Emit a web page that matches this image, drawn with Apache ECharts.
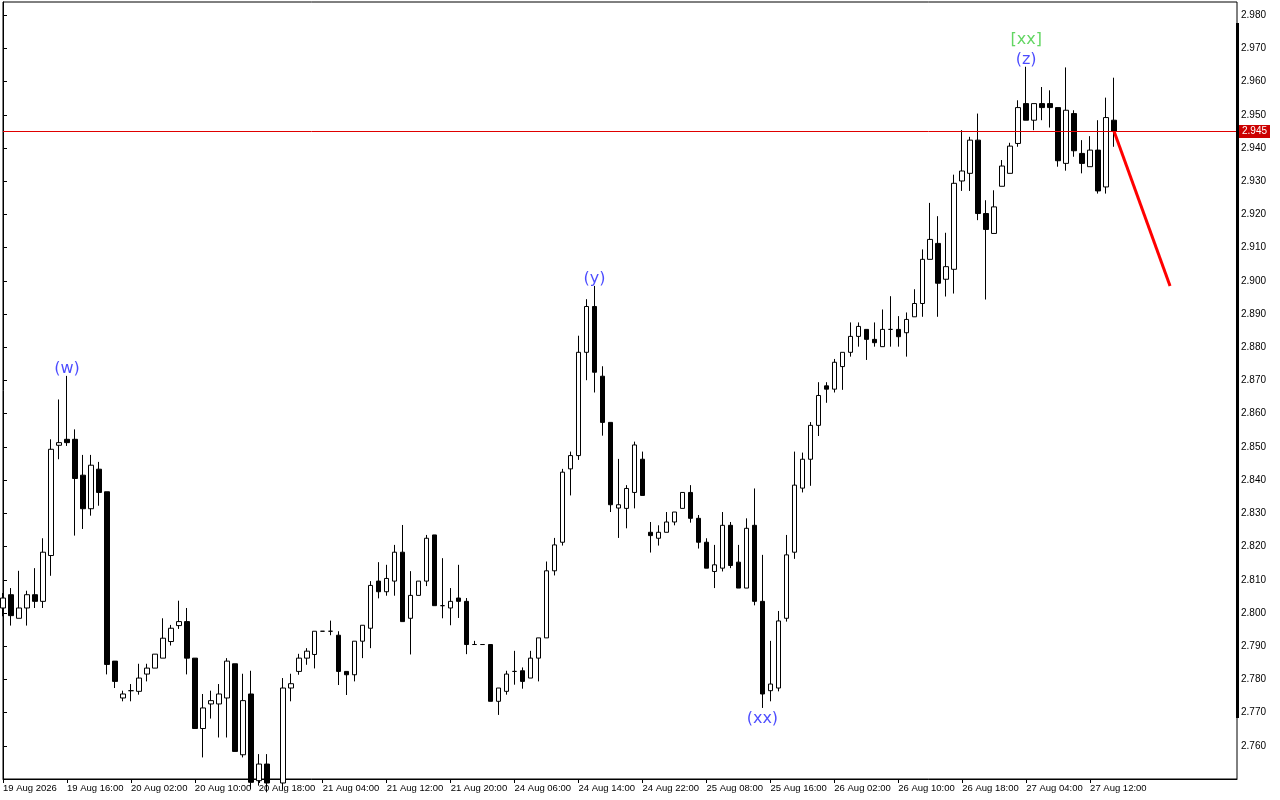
<!DOCTYPE html>
<html>
<head>
<meta charset="utf-8">
<script src="https://cdn.jsdelivr.net/npm/echarts@6/dist/echarts.min.js"></script>
<style>
  html, body { margin: 0; padding: 0; background: #fff; }
  #container { width: 1280px; height: 800px; }
</style>
</head>
<body>
<div id="container"></div>
<script>
// hourly candles (index 0 = 19 Aug 08:00)
const open = [
  2.8015, 2.8055, 2.7984, 2.8015, 2.8055, 2.8035, 2.8173, 2.8505, 2.8523, 2.8523,
  2.8415, 2.8314, 2.8433, 2.8365, 2.7855, 2.7744, 2.7766, 2.7764, 2.7816, 2.7834,
  2.7864, 2.7914, 2.7962, 2.7974, 2.7864, 2.7652, 2.7726, 2.7726, 2.7744, 2.7847,
  2.7573, 2.7756, 2.7495, 2.7545, 2.7475, 2.7488, 2.7774, 2.7824, 2.7864, 2.7875,
  2.7945, 2.7945, 2.7933, 2.7824, 2.7814, 2.7915, 2.7954, 2.8096, 2.8064, 2.8096,
  2.8183, 2.7984, 2.8053, 2.8096, 2.8235, 2.8022, 2.8015, 2.8045, 2.8035, 2.7905,
  2.7905, 2.7905, 2.7734, 2.7764, 2.7824, 2.7826, 2.7804, 2.7864, 2.7925, 2.8127,
  2.8213, 2.8434, 2.8474, 2.8785, 2.8923, 2.8713, 2.8574, 2.8316, 2.8315, 2.8363,
  2.8463, 2.8243, 2.8225, 2.8243, 2.8274, 2.8315, 2.8363, 2.8285, 2.8213, 2.8125,
  2.8135, 2.8264, 2.8153, 2.8075, 2.8264, 2.8035, 2.7766, 2.7774, 2.7984, 2.8183,
  2.8376, 2.8463, 2.8565, 2.8684, 2.8674, 2.8742, 2.8785, 2.8833, 2.8854, 2.8824,
  2.8802, 2.8854, 2.8854, 2.8844, 2.8892, 2.8932, 2.9065, 2.9113, 2.9005, 2.9035,
  2.9301, 2.9324, 2.9424, 2.9203, 2.9143, 2.9285, 2.9324, 2.9414, 2.9534, 2.9484,
  2.9534, 2.9534, 2.9522, 2.9354, 2.9504, 2.9384, 2.9344, 2.9394, 2.9283, 2.9484
];
const high = [
  2.8060, 2.8075, 2.8127, 2.8067, 2.8135, 2.8225, 2.8523, 2.8643, 2.8714, 2.8553,
  2.8476, 2.8476, 2.8455, 2.8365, 2.7855, 2.7766, 2.7786, 2.7847, 2.7847, 2.7876,
  2.7984, 2.7964, 2.8037, 2.8015, 2.7864, 2.7756, 2.7766, 2.7786, 2.7864, 2.7847,
  2.7817, 2.7826, 2.7575, 2.7575, 2.7495, 2.7804, 2.7817, 2.7877, 2.7894, 2.7945,
  2.7945, 2.7977, 2.7945, 2.7824, 2.7915, 2.7963, 2.8096, 2.8153, 2.8145, 2.8205,
  2.8265, 2.8126, 2.8096, 2.8235, 2.8235, 2.8165, 2.8075, 2.8145, 2.8045, 2.7916,
  2.7905, 2.7905, 2.7774, 2.7826, 2.7886, 2.7836, 2.7886, 2.7925, 2.8155, 2.8226,
  2.8434, 2.8486, 2.8835, 2.8945, 2.8985, 2.8743, 2.8574, 2.8464, 2.8385, 2.8516,
  2.8486, 2.8274, 2.8264, 2.8304, 2.8304, 2.8363, 2.8385, 2.8295, 2.8225, 2.8205,
  2.8304, 2.8274, 2.8205, 2.8285, 2.8375, 2.8175, 2.7916, 2.8006, 2.8235, 2.8486,
  2.8483, 2.8575, 2.8695, 2.8695, 2.8765, 2.8785, 2.8875, 2.8875, 2.8854, 2.8875,
  2.8914, 2.8954, 2.8894, 2.8905, 2.8975, 2.9095, 2.9235, 2.9195, 2.9145, 2.9320,
  2.9454, 2.9434, 2.9504, 2.9243, 2.9273, 2.9364, 2.9416, 2.9544, 2.9645, 2.9534,
  2.9584, 2.9574, 2.9522, 2.9643, 2.9514, 2.9424, 2.9436, 2.9484, 2.9552, 2.9612
];
const low = [
  2.7990, 2.7962, 2.7984, 2.7962, 2.8015, 2.8015, 2.8112, 2.8463, 2.8503, 2.8233,
  2.8253, 2.8293, 2.8323, 2.7815, 2.7774, 2.7734, 2.7734, 2.7754, 2.7794, 2.7834,
  2.7864, 2.7902, 2.7952, 2.7815, 2.7652, 2.7565, 2.7682, 2.7625, 2.7625, 2.7583,
  2.7565, 2.7470, 2.7480, 2.7460, 2.7440, 2.7470, 2.7734, 2.7814, 2.7844, 2.7833,
  2.7945, 2.7933, 2.7783, 2.7753, 2.7794, 2.7864, 2.7894, 2.8044, 2.8052, 2.8052,
  2.7974, 2.7875, 2.8053, 2.8081, 2.8022, 2.7984, 2.7963, 2.7985, 2.7876, 2.7905,
  2.7905, 2.7734, 2.7693, 2.7754, 2.7784, 2.7772, 2.7804, 2.7794, 2.7925, 2.8113,
  2.8203, 2.8354, 2.8461, 2.8701, 2.8664, 2.8534, 2.8304, 2.8226, 2.8255, 2.8315,
  2.8354, 2.8182, 2.8203, 2.8243, 2.8264, 2.8315, 2.8272, 2.8194, 2.8135, 2.8075,
  2.8125, 2.8135, 2.8075, 2.8075, 2.8023, 2.7714, 2.7734, 2.7764, 2.7974, 2.8163,
  2.8363, 2.8383, 2.8533, 2.8633, 2.8664, 2.8672, 2.8772, 2.8802, 2.8762, 2.8802,
  2.8802, 2.8802, 2.8802, 2.8772, 2.8892, 2.8892, 2.9065, 2.8892, 2.8953, 2.8962,
  2.9271, 2.9271, 2.9183, 2.8944, 2.9143, 2.9285, 2.9324, 2.9404, 2.9484, 2.9454,
  2.9484, 2.9462, 2.9344, 2.9332, 2.9374, 2.9324, 2.9344, 2.9263, 2.9263, 2.9404
];
const close = [
  2.8045, 2.7992, 2.8015, 2.8055, 2.8035, 2.8183, 2.8493, 2.8513, 2.8513, 2.8405,
  2.8314, 2.8445, 2.8363, 2.7845, 2.7794, 2.7756, 2.7766, 2.7804, 2.7834, 2.7876,
  2.7924, 2.7954, 2.7974, 2.7864, 2.7652, 2.7714, 2.7736, 2.7756, 2.7855, 2.7583,
  2.7736, 2.7490, 2.7545, 2.7488, 2.7465, 2.7774, 2.7787, 2.7864, 2.7885, 2.7945,
  2.7945, 2.7945, 2.7824, 2.7814, 2.7915, 2.7963, 2.8083, 2.8064, 2.8104, 2.8183,
  2.7974, 2.8053, 2.8096, 2.8225, 2.8022, 2.8022, 2.8035, 2.8035, 2.7905, 2.7905,
  2.7905, 2.7734, 2.7774, 2.7816, 2.7824, 2.7794, 2.7864, 2.7925, 2.8127, 2.8205,
  2.8424, 2.8474, 2.8785, 2.8923, 2.8725, 2.8574, 2.8326, 2.8326, 2.8375, 2.8506,
  2.8354, 2.8233, 2.8243, 2.8274, 2.8304, 2.8363, 2.8285, 2.8213, 2.8135, 2.8145,
  2.8264, 2.8143, 2.8075, 2.8255, 2.8035, 2.7756, 2.7786, 2.7976, 2.8175, 2.8385,
  2.8463, 2.8565, 2.8655, 2.8674, 2.8755, 2.8785, 2.8833, 2.8863, 2.8824, 2.8814,
  2.8854, 2.8854, 2.8832, 2.8884, 2.8932, 2.9065, 2.9125, 2.8993, 2.9043, 2.9294,
  2.9331, 2.9424, 2.9203, 2.9155, 2.9223, 2.9346, 2.9406, 2.9522, 2.9484, 2.9534,
  2.9522, 2.9522, 2.9362, 2.9514, 2.9392, 2.9354, 2.9394, 2.9271, 2.9492, 2.9450
];

// time axis labels, one every 8 bars
const tickIndex = [0, 8, 16, 24, 32, 40, 48, 56, 64, 72, 80, 88, 96, 104, 112, 120, 128, 136];
const tickLabels = [
  '19 Aug 2026', '19 Aug 16:00', '20 Aug 02:00', '20 Aug 10:00', '20 Aug 18:00',
  '21 Aug 04:00', '21 Aug 12:00', '21 Aug 20:00', '24 Aug 06:00', '24 Aug 14:00',
  '24 Aug 22:00', '25 Aug 08:00', '25 Aug 16:00', '26 Aug 02:00', '26 Aug 10:00',
  '26 Aug 18:00', '27 Aug 04:00', '27 Aug 12:00'
];

// wave marks
const waveIndex = [8, 74, 95, 128, 128];
const waveText = ['(w)', '(y)', '(xx)', '(z)', '[xx]'];
const waveSide = ['top', 'top', 'bottom', 'top', 'top'];
const waveColor = ['#1e1eff', '#1e1eff', '#1e1eff', '#1e1eff', '#3ccc3c'];

// current price and projected move
const lastPrice = 2.945;
const forecastX = [139, 146];
const forecastY = [2.945, 2.8985];

const dom = document.getElementById('container');
const myChart = echarts.init(dom, null, { renderer: 'canvas' });

const candles = open.map((o, i) => [i, o, close[i], low[i], high[i]]);

const waveData = waveIndex.map((idx, k) => {
  const atTop = waveSide[k] === 'top';
  let dist = atTop ? -1 : 3;
  if (waveText[k] === '[xx]') dist = 19;
  return {
    value: [idx, atTop ? high[idx] : low[idx]],
    label: {
      show: true,
      formatter: waveText[k],
      position: waveSide[k],
      distance: dist,
      color: waveColor[k]
    }
  };
});

const option = {
  animation: false,
  backgroundColor: '#fff',
  grid: {
    left: 2, top: 2, width: 1235, height: 777,
    show: true, borderColor: '#000', borderWidth: 1, backgroundColor: '#fff'
  },
  xAxis: {
    type: 'value',
    min: 0,
    max: 154.375,
    splitLine: { show: false },
    axisLine: { show: true, lineStyle: { color: '#000', width: 1 } },
    axisTick: {
      show: true, length: 4, lineStyle: { color: '#000' },
      customValues: tickIndex
    },
    axisLabel: {
      customValues: tickIndex,
      formatter: v => tickLabels[tickIndex.indexOf(v)] || '',
      align: 'left',
      margin: 4,
      color: '#000',
      fontFamily: 'Liberation Sans',
      fontSize: 9.5
    }
  },
  yAxis: {
    type: 'value',
    position: 'right',
    min: 2.75,
    max: 2.984,
    interval: 0.01,
    splitLine: { show: false },
    axisLine: { show: true, lineStyle: { color: '#000', width: 1 } },
    axisTick: { show: true, length: 4, inside: false, lineStyle: { color: '#000' } },
    axisLabel: {
      formatter: v => v.toFixed(3),
      showMinLabel: false,
      showMaxLabel: false,
      margin: 4,
      color: '#000',
      fontFamily: 'Liberation Sans',
      fontSize: 10
    }
  },
  graphic: [
    { type: 'rect', shape: { x: 1236, y: 23, width: 3, height: 695 }, style: { fill: '#000' }, z: 100 }
  ],
  series: [
    {
      type: 'candlestick',
      data: candles,
      encode: { x: 0, y: [1, 2, 3, 4] },
      barWidth: 5,
      clip: true,
      itemStyle: {
        color: '#fff',
        color0: '#000',
        borderColor: '#000',
        borderColor0: '#000',
        borderColorDoji: '#000',
        borderWidth: 1
      },
      markLine: {
        silent: true,
        symbol: 'none',
        precision: 3,
        lineStyle: { color: '#e00000', width: 1, type: 'solid' },
        label: {
          show: true,
          position: 'end',
          distance: 2,
          formatter: lastPrice.toFixed(3),
          color: '#fff',
          backgroundColor: '#cc0000',
          padding: [2, 3, 1, 3],
          fontFamily: 'Liberation Sans',
          fontSize: 10
        },
        data: [{ yAxis: lastPrice }]
      },
      z: 3
    },
    {
      type: 'line',
      data: forecastX.map((x, i) => [x, forecastY[i]]),
      symbol: 'none',
      lineStyle: { color: '#ff0000', width: 3 },
      z: 5
    },
    {
      type: 'scatter',
      data: waveData,
      symbolSize: 0,
      label: { fontFamily: 'DejaVu Sans', fontSize: 16 },
      z: 6
    }
  ]
};

myChart.setOption(option);
</script>
</body>
</html>
